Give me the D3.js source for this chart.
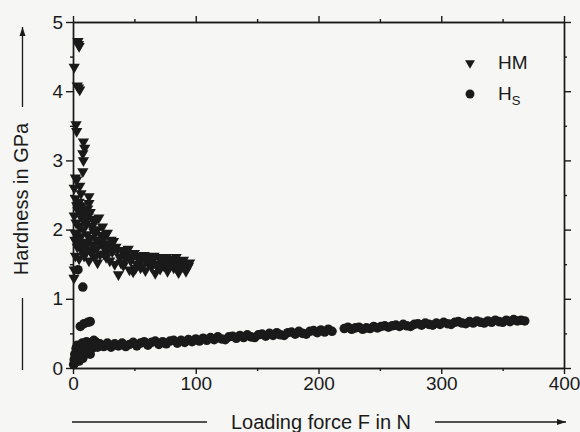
<!DOCTYPE html>
<html>
<head>
<meta charset="utf-8">
<script src="https://cdn.jsdelivr.net/npm/d3@7"></script>
<style>
  body { margin: 0; background: #f6f6f4; }
  svg { display: block; font-family: 'Liberation Sans', Arial, sans-serif; }
  .axis path, .axis line { stroke: #1a1a1a; stroke-width: 1.4; }
  .axis text { fill: #1a1a1a; font-size: 19px; }
</style>
</head>
<body>
<svg id="chart" width="580" height="432"></svg>
<script>
// HM (Martens hardness), force in N / hardness in GPa
const hmF = [1, 4, 5, 4.5, 3.5, 5.5, 4.5, 2.5, 3, 8.5, 9.5, 8, 8.5, 8, 3, 5.5, 6.5, 13, 2, 1, 13, 4, 12,
  1, 2.5, 3.5, 1.5, 5, 6.5, 7.5, 8.5, 9.5, 10.5, 11.5, 12.5, 14, 15, 16, 17, 18, 19, 20, 21, 22, 23, 24, 25, 26, 28, 29, 31, 33,
  2, 3, 5, 6, 7, 9, 10, 11, 14, 16, 18, 20, 24, 27, 30, 33, 36, 1.5, 4, 6, 8, 10, 12, 16, 19, 25, 28,
  1, 0.8, 2, 3.5, 5, 7, 9, 11, 13, 15, 18, 20, 22,
  27, 30, 32, 34, 35, 37, 38, 40, 41, 43, 44, 46, 47, 49, 50, 52, 53, 55, 56, 58, 59, 61, 62, 64, 65, 67, 68, 70, 71, 73, 74, 76, 77, 79, 80, 82, 83, 85, 86, 88, 89, 91, 93, 95,
  39, 42, 45, 48, 51, 54, 57, 60, 63, 66, 69, 72, 75, 78, 81, 84, 87, 90, 92, 94]
const hmH = [4.35, 4.72, 4.65, 4.68, 4.08, 4.02, 4.05, 3.52, 3.42, 3.27, 3.18, 3.1, 3.0, 2.84, 2.72, 2.63, 2.52, 2.48, 2.75, 2.6, 2.38, 2.28, 2.3,
  2.2, 2.1, 1.95, 1.85, 2.05, 1.9, 2.15, 2.0, 1.82, 2.08, 1.93, 2.2, 1.88, 2.05, 1.78, 1.97, 2.12, 1.85, 2.0, 2.17, 1.8, 1.92, 2.04, 1.75, 1.9, 1.95, 1.72, 1.85, 1.83,
  2.45, 2.35, 2.4, 2.25, 2.35, 2.2, 2.3, 2.15, 2.25, 2.15, 1.95, 1.85, 1.85, 1.8, 1.78, 1.72, 1.7, 1.95, 1.85, 1.75, 1.8, 1.75, 1.8, 1.7, 1.72, 1.65, 1.7,
  1.42, 1.3, 1.62, 1.75, 1.58, 1.7, 1.62, 1.68, 1.55, 1.66, 1.6, 1.52, 1.64,
  1.6, 1.55, 1.68, 1.5, 1.75, 1.35, 1.6, 1.7, 1.48, 1.58, 1.65, 1.42, 1.55, 1.39, 1.66, 1.5, 1.62, 1.45, 1.57, 1.63, 1.41, 1.52, 1.6, 1.46, 1.55, 1.37, 1.5, 1.6, 1.43, 1.55, 1.48, 1.6, 1.4, 1.52, 1.57, 1.45, 1.5, 1.42, 1.38, 1.55, 1.47, 1.5, 1.44, 1.52,
  1.52, 1.62, 1.72, 1.6, 1.44, 1.55, 1.48, 1.57, 1.53, 1.62, 1.45, 1.58, 1.52, 1.46, 1.55, 1.6, 1.45, 1.56, 1.4, 1.47]

// Hs
const hsF = [4, 8, 6, 9, 12, 14,
  0.5, 1, 1.5, 2, 2.5, 3, 3.5, 4, 5, 5.5, 6, 7, 7.5, 8, 9, 10, 11, 12, 13, 14, 15, 16, 17, 18, 19, 20,
  22, 25, 28, 31, 34, 37, 40, 43, 46, 49, 52, 55, 58, 61, 64, 67, 70, 73, 76, 79, 82, 85, 88, 91, 94, 97, 100,
  103, 106, 109, 112, 115, 118, 121, 124, 127, 130, 133, 136, 139, 142, 145, 148, 151, 154, 157, 160, 163, 166, 169, 172, 175, 178, 181, 184, 187, 190, 193, 196, 199, 202, 205, 208, 211,
  221, 224, 227, 230, 233, 236, 239, 242, 245, 248, 251, 254, 257, 260, 263, 266, 269, 272, 275, 278, 281, 284, 287, 290, 293, 296, 299, 302, 305, 308, 311, 314, 317, 320, 323, 326, 329, 332, 335, 338, 341, 344, 347, 350, 353, 356, 359, 362, 365, 368]
const hsH = [1.42, 1.17, 0.6, 0.64, 0.66, 0.67,
  0.05, 0.12, 0.2, 0.08, 0.28, 0.15, 0.33, 0.22, 0.1, 0.3, 0.18, 0.26, 0.36, 0.14, 0.3, 0.22, 0.38, 0.27, 0.33, 0.2, 0.36, 0.29, 0.4, 0.32, 0.37, 0.3,
  0.35, 0.31, 0.36, 0.3, 0.35, 0.32, 0.36, 0.31, 0.34, 0.37, 0.32, 0.36, 0.38, 0.33, 0.37, 0.39, 0.34, 0.38, 0.35, 0.39, 0.4, 0.36, 0.4, 0.37, 0.41, 0.38, 0.42,
  0.39, 0.43, 0.4, 0.44, 0.41, 0.45, 0.42, 0.41, 0.45, 0.46, 0.43, 0.47, 0.44, 0.48, 0.45, 0.44, 0.48, 0.49, 0.46, 0.5, 0.47, 0.51, 0.48, 0.47, 0.51, 0.52, 0.49, 0.53, 0.5, 0.49, 0.53, 0.54, 0.51, 0.55, 0.52, 0.56, 0.53,
  0.57, 0.59, 0.56, 0.58, 0.59, 0.56, 0.58, 0.57, 0.6, 0.58, 0.6, 0.61, 0.59, 0.61, 0.62, 0.6, 0.63, 0.61, 0.6, 0.63, 0.64, 0.62, 0.65, 0.63, 0.62, 0.65, 0.63, 0.66, 0.64, 0.63, 0.66, 0.67, 0.65, 0.64, 0.67, 0.65, 0.68, 0.66, 0.65, 0.68, 0.66, 0.69, 0.67, 0.66, 0.69, 0.67, 0.7, 0.68, 0.69, 0.68]

const xTicks = [0, 100, 200, 300, 400]
const xMinor = [50, 150, 250, 350]
const yTicks = [0, 1, 2, 3, 4, 5]
const yMinor = [0.5, 1.5, 2.5, 3.5, 4.5]

const margin = { top: 22, right: 16, bottom: 64, left: 73 }
const W = 580
const H = 432
const width = W - margin.left - margin.right
const height = H - margin.top - margin.bottom
const ink = '#1a1a1a'

const svg = d3.select('#chart')
svg.append('rect').attr('width', W).attr('height', H).attr('fill', '#f6f6f4')

const g = svg.append('g').attr('transform', `translate(${margin.left}, ${margin.top})`)

const x = d3.scaleLinear().domain([0, 400]).range([0, width])
const y = d3.scaleLinear().domain([0, 5]).range([height, 0])

// axes: major + minor on all four sides, ticks outward
const addAxis = (axisFn, scale, values, size, labels, transform) => {
  const a = axisFn(scale).tickValues(values).tickSize(size).tickSizeOuter(0).tickPadding(3)
  a.tickFormat(labels ? d3.format('d') : '')
  g.append('g').attr('class', 'axis').attr('transform', transform).call(a)
}
addAxis(d3.axisBottom, x, xTicks, 6, true, `translate(0, ${height})`)
addAxis(d3.axisBottom, x, xMinor, 3, false, `translate(0, ${height})`)
addAxis(d3.axisTop, x, xTicks, 6, false, 'translate(0, 0)')
addAxis(d3.axisTop, x, xMinor, 3, false, 'translate(0, 0)')
addAxis(d3.axisLeft, y, yTicks, 7, true, 'translate(0, 0)')
addAxis(d3.axisLeft, y, yMinor, 3, false, 'translate(0, 0)')
addAxis(d3.axisRight, y, yTicks, 7, false, `translate(${width}, 0)`)
addAxis(d3.axisRight, y, yMinor, 3, false, `translate(${width}, 0)`)

// data
const tri = d3.symbol().type(d3.symbolTriangle).size(55)
const dot = d3.symbol().type(d3.symbolCircle).size(72)

g.append('g')
  .selectAll('path')
  .data(hsF.map((f, i) => [f, hsH[i]]))
  .join('path')
  .attr('d', dot)
  .attr('transform', d => `translate(${x(d[0])}, ${y(d[1])})`)
  .attr('fill', ink)

g.append('g')
  .selectAll('path')
  .data(hmF.map((f, i) => [f, hmH[i]]))
  .join('path')
  .attr('d', tri)
  .attr('transform', d => `translate(${x(d[0])}, ${y(d[1])}) rotate(180)`)
  .attr('fill', ink)

// legend
const legend = svg.append('g').attr('fill', ink).style('font-size', '19px')
legend.append('path').attr('d', d3.symbol().type(d3.symbolTriangle).size(42)).attr('transform', 'translate(470, 63) rotate(180)')
legend.append('text').attr('x', 498).attr('y', 69).text('HM')
legend.append('path').attr('d', d3.symbol().type(d3.symbolCircle).size(62)).attr('transform', 'translate(470, 94)')
const hs = legend.append('text').attr('x', 498).attr('y', 100)
hs.append('tspan').text('H')
hs.append('tspan').attr('dy', 5).style('font-size', '13px').text('S')

// axis titles with arrows
const arrow = (x1, y1, x2, y2) => {
  svg.append('line')
    .attr('x1', x1).attr('y1', y1).attr('x2', x2).attr('y2', y2)
    .attr('stroke', ink).attr('stroke-width', 1.3)
  const ang = Math.atan2(y2 - y1, x2 - x1) * 180 / Math.PI
  svg.append('path')
    .attr('d', 'M0,0 L-9,-3 L-9,3 Z')
    .attr('transform', `translate(${x2}, ${y2}) rotate(${ang})`)
    .attr('fill', ink)
}

svg.append('text')
  .attr('x', 321).attr('y', 429)
  .attr('text-anchor', 'middle')
  .attr('fill', ink)
  .style('font-size', '20px')
  .text('Loading force F in N')
svg.append('line').attr('x1', 72).attr('y1', 422).attr('x2', 207).attr('y2', 422)
  .attr('stroke', ink).attr('stroke-width', 1.3)
arrow(435, 422, 566, 422)

svg.append('text')
  .attr('transform', 'translate(28, 199) rotate(-90)')
  .attr('text-anchor', 'middle')
  .attr('fill', ink)
  .style('font-size', '20px')
  .text('Hardness in GPa')
svg.append('line').attr('x1', 22.5).attr('y1', 298).attr('x2', 22.5).attr('y2', 370)
  .attr('stroke', ink).attr('stroke-width', 1.3)
arrow(22.5, 107, 22.5, 27)
</script>
</body>
</html>
